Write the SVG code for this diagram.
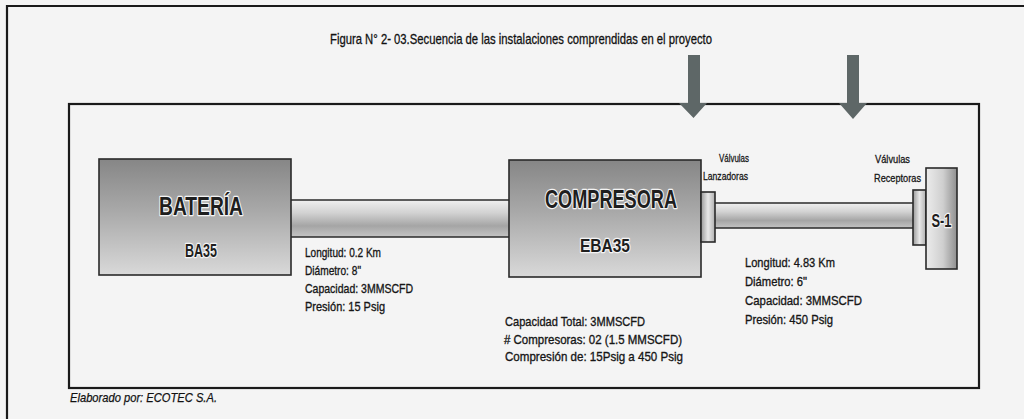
<svg xmlns="http://www.w3.org/2000/svg" width="1024" height="419" viewBox="0 0 1024 419">
<style>
.frame{fill:none;stroke:#1a1a1a;stroke-width:2.2}
.box{stroke:#2a2a2a;stroke-width:1.6}
.big{font-family:"Liberation Sans Narrow","Liberation Sans",Arial,sans-serif;font-weight:bold;fill:#1e1e1e;stroke:#f4f4f4;stroke-width:2.5;paint-order:stroke;stroke-linejoin:round}
.lbl{font-family:"Liberation Sans Narrow","Liberation Sans",Arial,sans-serif;font-size:13.5px;fill:#161616;stroke:#161616;stroke-width:0.35}
.sm{font-family:"Liberation Sans Narrow","Liberation Sans",Arial,sans-serif;font-size:11.5px;fill:#161616;stroke:#161616;stroke-width:0.3}
.arrow{fill:#5e6767}
</style>
<defs>
<linearGradient id="gBox" x1="0" y1="0" x2="0" y2="1">
<stop offset="0" stop-color="#868686"/>
<stop offset="0.45" stop-color="#a9a9a9"/>
<stop offset="1" stop-color="#d9d9d9"/>
</linearGradient>
<linearGradient id="gPipe" x1="0" y1="0" x2="0" y2="1">
<stop offset="0" stop-color="#f0f0f0"/>
<stop offset="0.35" stop-color="#d2d2d2"/>
<stop offset="0.7" stop-color="#a5a5a5"/>
<stop offset="1" stop-color="#c4c4c4"/>
</linearGradient>
<linearGradient id="gValve" x1="0" y1="0" x2="1" y2="0">
<stop offset="0" stop-color="#9a9a9a"/>
<stop offset="0.5" stop-color="#e8e8e8"/>
<stop offset="1" stop-color="#b0b0b0"/>
</linearGradient>
<linearGradient id="gS1" x1="0" y1="0" x2="1" y2="0">
<stop offset="0" stop-color="#ececec"/>
<stop offset="0.55" stop-color="#cfcfcf"/>
<stop offset="1" stop-color="#8f8f8f"/>
</linearGradient>
</defs>
<rect x="0" y="0" width="1024" height="419" fill="#f4f4f4"/>
<g id="outer-frame">
<polyline class="frame" points="7,419 7,6 1024,6"/>
</g>
<g id="title">
<text x="330" y="44" font-family="'Liberation Sans Narrow','Liberation Sans',Arial,sans-serif" font-size="15" fill="#111" stroke="#111" stroke-width="0.3" textLength="382" lengthAdjust="spacingAndGlyphs">Figura N° 2- 03.Secuencia de las instalaciones comprendidas en el proyecto</text>
</g>
<g id="inner-frame">
<rect class="frame" x="69" y="104" width="910" height="284" fill="#f8f8f8"/>
</g>
<g id="connectors">
<rect id="pipe-1" x="291" y="200" width="218" height="37" fill="url(#gPipe)"/>
<line x1="291" y1="200" x2="509" y2="200" stroke="#2a2a2a" stroke-width="1.6"/>
<line x1="291" y1="237" x2="509" y2="237" stroke="#2a2a2a" stroke-width="1.6"/>
<rect id="pipe-2" x="715" y="203" width="198" height="25" fill="url(#gPipe)"/>
<line x1="715" y1="203" x2="913" y2="203" stroke="#2a2a2a" stroke-width="1.6"/>
<line x1="715" y1="228" x2="913" y2="228" stroke="#2a2a2a" stroke-width="1.6"/>
<polygon class="arrow" points="688,55 700,55 700,103 707,103 693.5,118 679,103 688,103"/>
<polygon class="arrow" points="847,55 859,55 859,103 867,103 853,119 839,103 847,103"/>
</g>
<g id="bateria">
<rect class="box" x="99" y="159" width="192" height="116" fill="url(#gBox)"/>
<text class="big" x="201" y="215" font-size="25" text-anchor="middle" textLength="84" lengthAdjust="spacingAndGlyphs">BATERÍA</text>
<text class="big" x="201" y="257" font-size="19" text-anchor="middle" textLength="32" lengthAdjust="spacingAndGlyphs">BA35</text>
</g>
<g id="pipe-1-label">
<text class="lbl" x="305" y="257" textLength="76" lengthAdjust="spacingAndGlyphs">Longitud: 0.2 Km</text>
<text class="lbl" x="305" y="275" textLength="56" lengthAdjust="spacingAndGlyphs">Diámetro: 8"</text>
<text class="lbl" x="305" y="293" textLength="108" lengthAdjust="spacingAndGlyphs">Capacidad: 3MMSCFD</text>
<text class="lbl" x="305" y="311" textLength="80" lengthAdjust="spacingAndGlyphs">Presión: 15 Psig</text>
</g>
<g id="compresora">
<rect class="box" x="509" y="160" width="192" height="117" fill="url(#gBox)"/>
<text class="big" x="611" y="208" font-size="25" text-anchor="middle" textLength="132" lengthAdjust="spacingAndGlyphs">COMPRESORA</text>
<text class="big" x="605" y="252" font-size="19" text-anchor="middle" textLength="50" lengthAdjust="spacingAndGlyphs">EBA35</text>
</g>
<g id="compresora-label">
<text class="lbl" x="505" y="326" textLength="140" lengthAdjust="spacingAndGlyphs">Capacidad Total: 3MMSCFD</text>
<text class="lbl" x="504" y="344" textLength="178" lengthAdjust="spacingAndGlyphs"># Compresoras: 02 (1.5 MMSCFD)</text>
<text class="lbl" x="505" y="361" textLength="178" lengthAdjust="spacingAndGlyphs">Compresión de: 15Psig a 450 Psig</text>
</g>
<g id="valvulas-lanzadoras">
<rect class="box" x="701" y="192" width="14" height="50" fill="url(#gValve)"/>
<text class="sm" x="719" y="162" textLength="30" lengthAdjust="spacingAndGlyphs">Válvulas</text>
<text class="sm" x="703" y="180" textLength="45" lengthAdjust="spacingAndGlyphs">Lanzadoras</text>
</g>
<g id="pipe-2-label">
<text class="lbl" x="745" y="267" textLength="90" lengthAdjust="spacingAndGlyphs">Longitud: 4.83 Km</text>
<text class="lbl" x="745" y="286" textLength="62" lengthAdjust="spacingAndGlyphs">Diámetro: 6"</text>
<text class="lbl" x="745" y="305" textLength="117" lengthAdjust="spacingAndGlyphs">Capacidad: 3MMSCFD</text>
<text class="lbl" x="745" y="324" textLength="88" lengthAdjust="spacingAndGlyphs">Presión: 450 Psig</text>
</g>
<g id="valvulas-receptoras">
<rect class="box" x="913" y="190" width="13" height="55" fill="url(#gValve)"/>
<text class="sm" x="875" y="163" textLength="35" lengthAdjust="spacingAndGlyphs">Válvulas</text>
<text class="sm" x="874" y="182" textLength="47" lengthAdjust="spacingAndGlyphs">Receptoras</text>
</g>
<g id="s1">
<rect class="box" x="926" y="168" width="31" height="101" fill="url(#gS1)"/>
<text class="big" x="941.5" y="227" font-size="19" text-anchor="middle" textLength="20" lengthAdjust="spacingAndGlyphs">S-1</text>
</g>
<g id="credit">
<text x="70" y="402" font-family="'Liberation Sans Narrow','Liberation Sans',Arial,sans-serif" font-size="13" font-style="italic" fill="#111" stroke="#111" stroke-width="0.25" textLength="147" lengthAdjust="spacingAndGlyphs">Elaborado por: ECOTEC S.A.</text>
</g>
</svg>
